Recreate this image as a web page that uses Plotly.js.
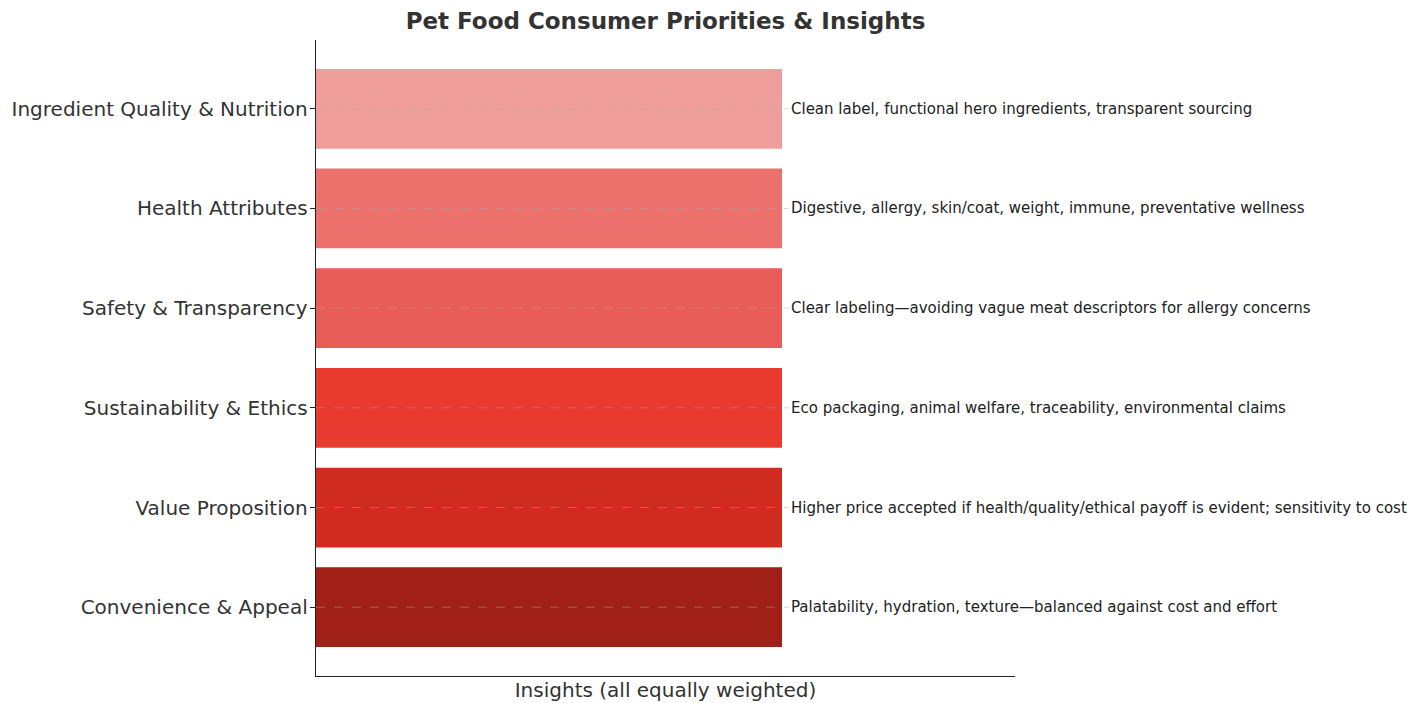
<!DOCTYPE html>
<html>
<head>
<meta charset="utf-8">
<script src="https://cdn.plot.ly/plotly-3.0.1.min.js"></script>
<style>html,body{margin:0;padding:0;background:#fff;}#chart{width:1418px;height:703px;}</style>
</head>
<body>
<div id="chart"></div>
<script>
const categories = [
  "Ingredient Quality & Nutrition",
  "Health Attributes",
  "Safety & Transparency",
  "Sustainability & Ethics",
  "Value Proposition",
  "Convenience & Appeal"
];
const weights = [1, 1, 1, 1, 1, 1];
const insights = [
  "Clean label, functional hero ingredients, transparent sourcing",
  "Digestive, allergy, skin/coat, weight, immune, preventative wellness",
  "Clear labeling\u2014avoiding vague meat descriptors for allergy concerns",
  "Eco packaging, animal welfare, traceability, environmental claims",
  "Higher price accepted if health/quality/ethical payoff is evident; sensitivity to cost",
  "Palatability, hydration, texture\u2014balanced against cost and effort"
];
const barColors = ["#f09e9c", "#ec716c", "#e85d58", "#e83a2f", "#d02b1f", "#a01f16"];
const labelOffset = 0.016;

const font = "DejaVu Sans, Verdana, sans-serif";

const trace = {
  type: "bar",
  orientation: "h",
  x: weights,
  y: categories,
  width: 0.8,
  marker: {color: barColors, line: {width: 0}},
  hoverinfo: "skip"
};

const annotations = categories.map((c, i) => ({
  x: weights[i] + labelOffset,
  y: c,
  xref: "x",
  yref: "y",
  text: insights[i],
  showarrow: false,
  xanchor: "left",
  yanchor: "middle",
  font: {family: font, size: 15, color: "#222"}
}));

const shapes = categories.map((c, i) => ({
  type: "line",
  xref: "x",
  yref: "y",
  x0: 0,
  x1: weights[i] + labelOffset,
  y0: c,
  y1: c,
  layer: "above",
  line: {color: "rgba(170,170,170,0.45)", width: 1, dash: "dash"}
}));

const layout = {
  width: 1418,
  height: 703,
  margin: {l: 316, r: 403, t: 40, b: 27},
  paper_bgcolor: "#fff",
  plot_bgcolor: "#fff",
  showlegend: false,
  title: {
    text: "<b>Pet Food Consumer Priorities & Insights</b>",
    font: {family: font, size: 23, color: "#333"},
    x: 0.5, xref: "paper", xanchor: "center",
    y: 0.97, yref: "container", yanchor: "middle"
  },
  xaxis: {
    range: [0, 1.5],
    showticklabels: false,
    ticks: "",
    showgrid: false,
    zeroline: false,
    showline: true,
    linecolor: "#222",
    linewidth: 1.3,
    title: {text: "Insights (all equally weighted)", font: {family: font, size: 20, color: "#333"}, standoff: 6}
  },
  yaxis: {
    type: "category",
    range: [5.69, -0.69],
    ticks: "outside",
    ticklen: 5,
    tickcolor: "#222",
    ticklabelstandoff: -2,
    showgrid: false,
    zeroline: false,
    showline: true,
    linecolor: "#222",
    linewidth: 1.3,
    tickfont: {family: font, size: 20, color: "#333"}
  },
  annotations: annotations,
  shapes: shapes
};

Plotly.newPlot("chart", [trace], layout, {displayModeBar: false, staticPlot: true});
</script>
</body>
</html>
